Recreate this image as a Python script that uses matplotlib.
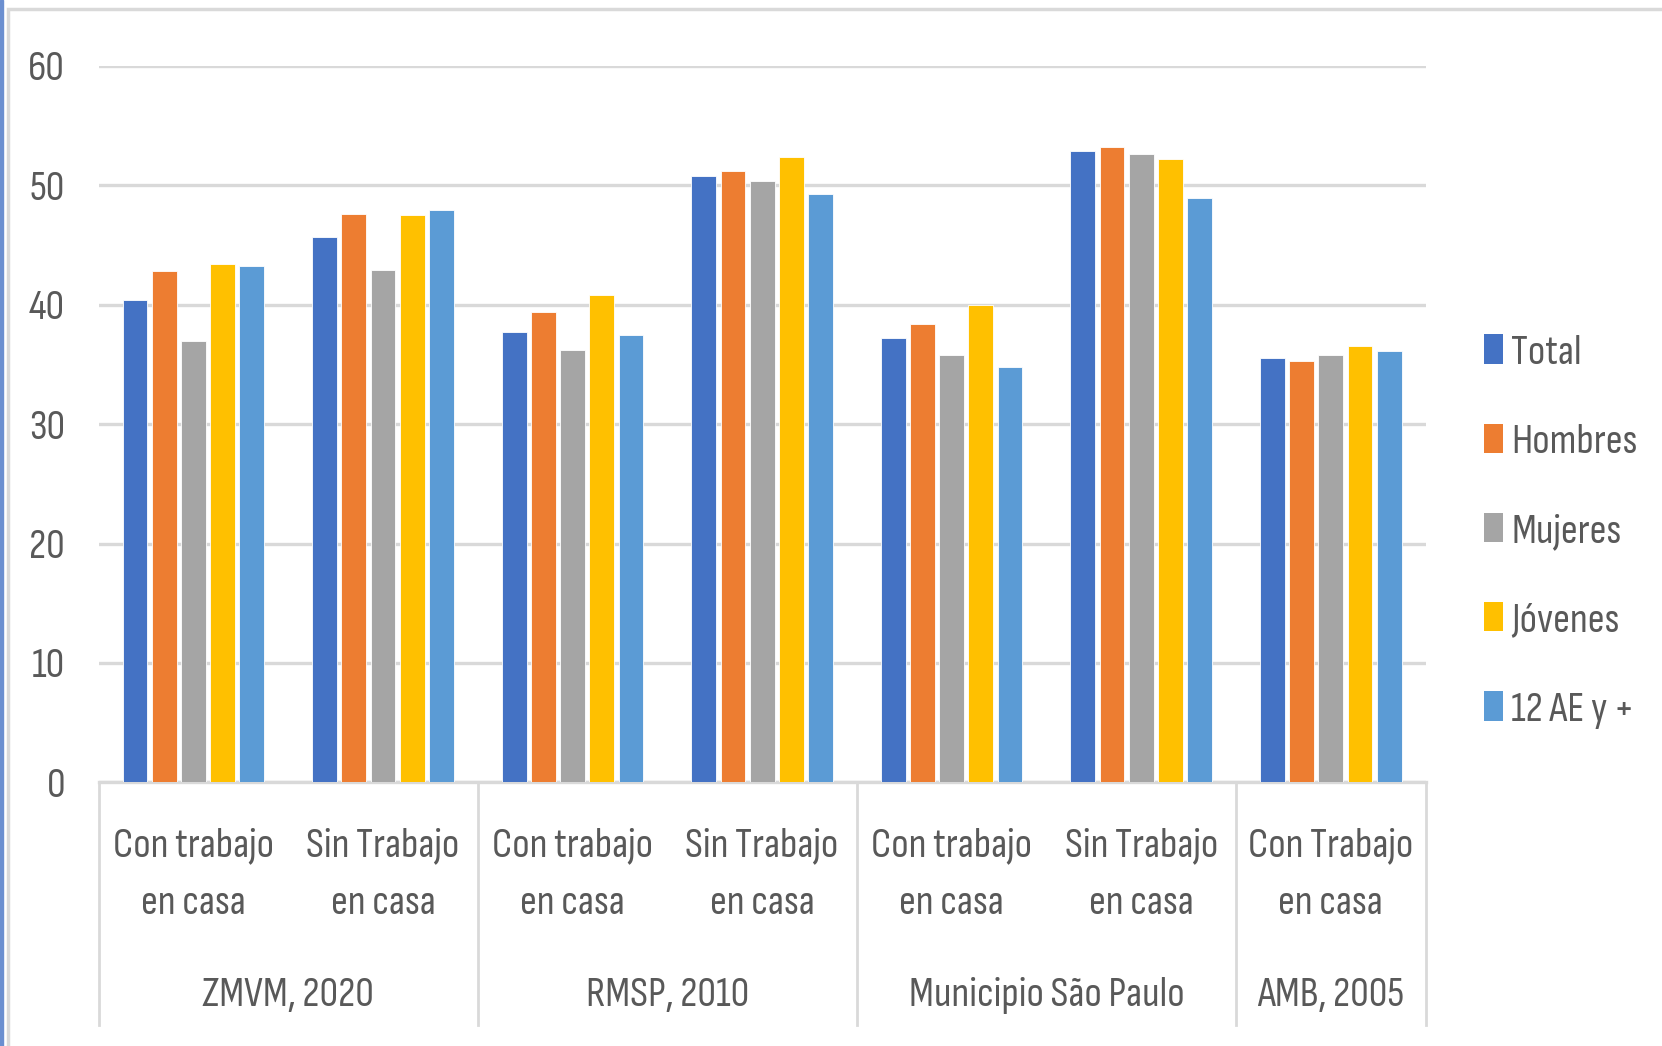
import matplotlib.pyplot as plt
from matplotlib.patches import Patch, Rectangle
from matplotlib.transforms import blended_transform_factory
import numpy as np

plt.rcParams['font.family'] = ['Sofia Sans Condensed', 'PT Sans Narrow',
                               'DejaVu Sans']

sub_labels = ['Con trabajo\nen casa', 'Sin Trabajo\nen casa',
              'Con trabajo\nen casa', 'Sin Trabajo\nen casa',
              'Con trabajo\nen casa', 'Sin Trabajo\nen casa',
              'Con Trabajo\nen casa']
groups = ['ZMVM, 2020', 'RMSP, 2010', 'Municipio São Paulo', 'AMB, 2005']
group_spans = [(0, 2), (2, 4), (4, 6), (6, 7)]
series = ['Total', 'Hombres', 'Mujeres', 'Jóvenes', '12 AE y +']
colors = ['#4472C4', '#ED7D31', '#A5A5A5', '#FFC000', '#5B9BD5']

total = [40.4, 45.7, 37.7, 50.8, 37.2, 52.9, 35.5]
hombres = [42.8, 47.6, 39.4, 51.2, 38.4, 53.2, 35.3]
mujeres = [37.0, 42.9, 36.2, 50.4, 35.8, 52.6, 35.8]
jovenes = [43.4, 47.5, 40.8, 52.4, 40.0, 52.2, 36.5]
ae12 = [43.2, 47.9, 37.5, 49.3, 34.8, 48.9, 36.1]
values = [total, hombres, mujeres, jovenes, ae12]

txt = '#595959'
grid = '#D9D9D9'
fs = 30

fig = plt.figure(figsize=(16.62, 10.46), dpi=100)
ax = fig.add_axes([0.0593, 0.2521, 0.7985, 0.6849])

x = np.arange(len(sub_labels)) + 0.5
slot = 0.154
for i, (name, vals) in enumerate(zip(series, values)):
    ax.bar(x + (i - 2) * slot, vals, width=slot * 0.85, color=colors[i],
           edgecolor='white', linewidth=0.6, label=name, zorder=3)

ax.set_xlim(0, len(sub_labels))
ax.set_ylim(0, 60)
ax.set_yticks(range(0, 61, 10))
ax.yaxis.grid(True, color=grid, linewidth=2.4, zorder=0)
ax.tick_params(axis='y', length=0, pad=24, labelsize=fs, labelcolor=txt)
ax.set_xticks(x)
ax.set_xticklabels(sub_labels, fontsize=fs, color=txt, linespacing=1.75)
ax.tick_params(axis='x', length=0, pad=32)
for s in ['top', 'right', 'left']:
    ax.spines[s].set_visible(False)
ax.spines['bottom'].set_color(grid)
ax.spines['bottom'].set_linewidth(2.4)

tr = blended_transform_factory(ax.transData, ax.transAxes)
bounds = sorted({b for span in group_spans for b in span})
for b in bounds:
    ax.plot([b, b], [0, -0.339], transform=tr, color=grid, lw=2,
            clip_on=False)
for g, (a, b) in zip(groups, group_spans):
    ax.text((a + b) / 2, -0.297, g, transform=tr, ha='center', va='center',
            fontsize=fs, color=txt)

handles = [Patch(facecolor=c) for c in colors]
leg = ax.legend(handles, series, loc='center left',
                bbox_to_anchor=(1.016, 0.35), frameon=False, fontsize=fs,
                handlelength=0.45, handleheight=0.7, handletextpad=0.2,
                labelspacing=1.25)
for t in leg.get_texts():
    t.set_color(txt)

# chart area border and left selection line
fig.patches.append(Rectangle((8 / 1662, -0.1), 1.2, 1.1 - 9 / 1046,
                             transform=fig.transFigure, fill=False,
                             edgecolor='#D9D9D9', linewidth=2.5))
fig.patches.append(Rectangle((0, 0), 3 / 1662, 1, transform=fig.transFigure,
                             color='#6B8FD0'))

fig.savefig('out.png', dpi=100)
